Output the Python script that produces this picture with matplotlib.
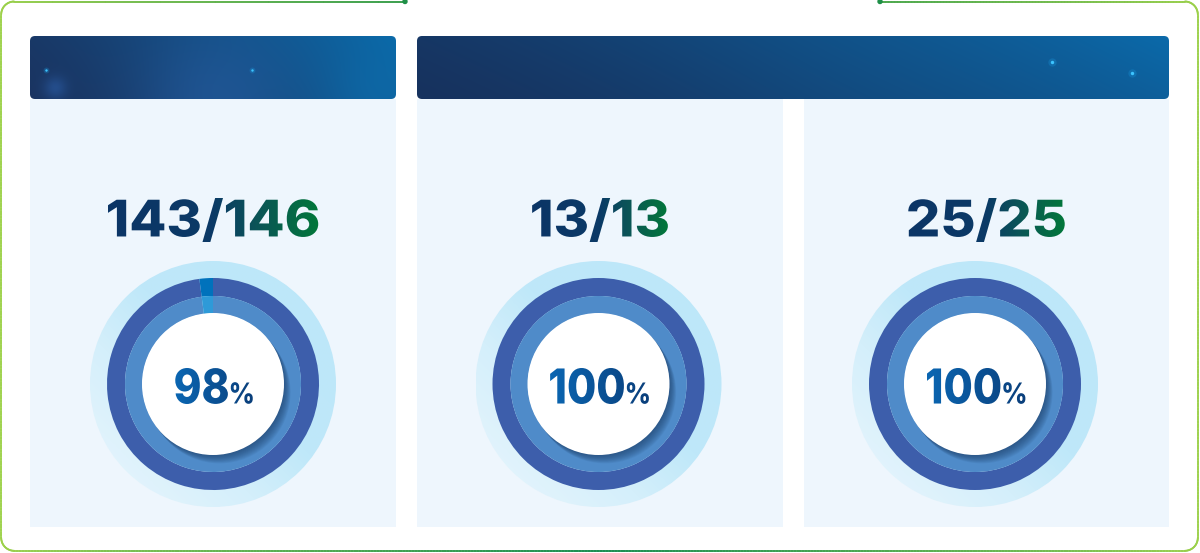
import numpy as np
import matplotlib
matplotlib.use('Agg')
import matplotlib.pyplot as plt
from matplotlib.patches import Circle, Wedge, FancyBboxPatch, PathPatch, Rectangle
from matplotlib.textpath import TextPath
from matplotlib.font_manager import FontProperties
from matplotlib.path import Path
from matplotlib.transforms import Affine2D
from matplotlib.collections import LineCollection
from matplotlib.colors import to_rgb, LinearSegmentedColormap

# ---------------- data ----------------
completed = [143, 13, 25]
totals = [146, 13, 25]

# ---------------- layout / style ----------------
W, H = 1200, 553
fig = plt.figure(figsize=(12, 5.53), dpi=100)
ax = fig.add_axes([0, 0, 1, 1])
ax.axis('off')

panel_x = [(30, 396), (417, 783), (804, 1169)]
panel_y = (99, 527)
header_y = (36, 99)
donut_cx = [213, 598.5, 975]
donut_cy = 384
R_HALO, R_DARK, R_MID, R_WHITE = 123, 106, 88, 71

FP = FontProperties(family='Inter', weight='heavy')

def rgb(c):
    return np.array(to_rgb(c))

# ---------------- outer border ----------------
def border(x0, y0, x1, y1, r, gap0, gap1):
    pts = []
    pts += [(x, y0) for x in np.linspace(gap1, x1 - r, 200)]
    for a in np.radians(np.linspace(-90, 0, 24)):
        pts.append((x1 - r + r * np.cos(a), y0 + r + r * np.sin(a)))
    pts += [(x1, y) for y in np.linspace(y0 + r, y1 - r, 200)]
    for a in np.radians(np.linspace(0, 90, 24)):
        pts.append((x1 - r + r * np.cos(a), y1 - r + r * np.sin(a)))
    pts += [(x, y1) for x in np.linspace(x1 - r, x0 + r, 400)]
    for a in np.radians(np.linspace(90, 180, 24)):
        pts.append((x0 + r + r * np.cos(a), y1 - r + r * np.sin(a)))
    pts += [(x0, y) for y in np.linspace(y1 - r, y0 + r, 200)]
    for a in np.radians(np.linspace(180, 270, 24)):
        pts.append((x0 + r + r * np.cos(a), y0 + r + r * np.sin(a)))
    pts += [(x, y0) for x in np.linspace(x0 + r, gap0, 200)]
    pts = np.array(pts)
    segs = np.stack([pts[:-1], pts[1:]], axis=1)
    mid = segs.mean(axis=1)
    t = np.clip(1 - np.abs(mid[:, 0] - 600) / 600, 0, 1) ** 0.8
    light, dark = rgb('#9ed24a'), rgb('#128a4c')
    cols = light[None, :] * (1 - t[:, None]) + dark[None, :] * t[:, None]
    lc = LineCollection(segs, colors=cols, linewidths=1.3, capstyle='round')
    ax.add_collection(lc)
    for gx in (gap0, gap1):
        ax.add_patch(Circle((gx, y0), 2.0, color='#1f8f48', zorder=3))

border(1.2, 1.5, 1197.8, 550.8, 13, 405, 880)

# ---------------- panels ----------------
for (x0, x1) in panel_x:
    ax.add_patch(Rectangle((x0, panel_y[0]), x1 - x0, panel_y[1] - panel_y[0],
                           facecolor='#eef6fd', edgecolor='none', zorder=1))

# ---------------- headers ----------------
def header(x0, x1, c_left, c_right, glows, dots):
    y0, y1 = header_y
    w, h = int(x1 - x0), int(y1 - y0)
    xs = np.linspace(0, 1, w)[None, :]
    ys = np.linspace(0, 1, h)[:, None]
    t = np.clip(0.85 * xs + 0.15 * (1 - ys), 0, 1) ** 1.3
    img = rgb(c_left)[None, None, :] * (1 - t[..., None]) + rgb(c_right)[None, None, :] * t[..., None]
    X = x0 + xs * (x1 - x0)
    Y = y0 + ys * (y1 - y0)
    for gx, gy, s, col, k in glows:
        g = k * np.exp(-((X - gx) ** 2 + (Y - gy) ** 2) / (2 * s ** 2))
        img = img * (1 - g[..., None]) + rgb(col)[None, None, :] * g[..., None]
    img = np.clip(img, 0, 1)
    box = FancyBboxPatch((x0, y0), x1 - x0, y1 - y0,
                         boxstyle='round,pad=0,rounding_size=5',
                         facecolor='none', edgecolor='none', zorder=2)
    ax.add_patch(box)
    im = ax.imshow(img, extent=(x0, x1, y1, y0), origin='upper',
                   interpolation='bilinear', zorder=2, aspect='auto')
    im.set_clip_path(box)
    for dx, dy, s in dots:
        ax.scatter([dx], [dy], s=s * 6, color='#1aa0e8', alpha=0.25, zorder=3, linewidths=0)
        ax.scatter([dx], [dy], s=s, color='#3cc4ff', zorder=3, linewidths=0)

header(30, 396, '#1a3461', '#0b69a8',
       [(215, 105, 55, '#2760a6', 0.55), (55, 88, 8, '#2e63b0', 0.5),
        (375, 95, 35, '#0d73b4', 0.4)],
       [(46, 70, 3), (252, 70, 3)])
header(417, 1169, '#17325e', '#0b6aaa',
       [(900, 60, 120, '#125a92', 0.15)],
       [(1052, 62, 6), (1132, 73, 6)])

# ---------------- gradient text ----------------
def gradient_text(parts, cx, cy, target_h, stops, z=6, gap=3, xscale=1.0):
    paths = []
    x = 0.0
    main_ext = None
    for s, ratio in parts:
        tp = TextPath((x, 0), s, size=100 * ratio, prop=FP)
        ext = tp.get_extents()
        if main_ext is None:
            main_ext = ext
        paths.append(tp)
        x = ext.x1 + gap
    comp = Path.make_compound_path(*paths)
    ext = comp.get_extents()
    sc = target_h / main_ext.height
    tr = Affine2D().translate(-(ext.x0 + ext.x1) / 2, -(main_ext.y0 + main_ext.y1) / 2)\
        .scale(sc * xscale, -sc).translate(cx, cy)
    p = tr.transform_path(comp)
    patch = PathPatch(p, facecolor='none', edgecolor='none', transform=ax.transData, zorder=z)
    ax.add_patch(patch)
    e = p.get_extents()
    cmap = LinearSegmentedColormap.from_list('g', stops)
    grad = np.linspace(0, 1, 256)[None, :]
    im = ax.imshow(grad, extent=(e.x0, e.x1, e.y1, e.y0), origin='upper', cmap=cmap,
                   interpolation='bilinear', aspect='auto', zorder=z)
    im.set_clip_path(patch)

num_stops = [(0, '#0b3567'), (0.5, '#0b3a66'), (0.72, '#0a5656'), (1, '#02773a')]
pct_stops = [(0, '#0a66b2'), (1, '#0b3f7b')]

# ---------------- donuts ----------------
halo_cmap = LinearSegmentedColormap.from_list(
    'halo', [(0, '#eaf6fd'), (0.35, '#d4effb'), (0.55, '#bfe8f9'), (1, '#bce7f9')])

for i, (done, tot) in enumerate(zip(completed, totals)):
    cx, cy = donut_cx[i], donut_cy
    # halo
    halo = Circle((cx, cy), R_HALO, facecolor='none', edgecolor='none', zorder=3)
    ax.add_patch(halo)
    n = 200
    u = np.linspace(0, 1, n)
    U, V = np.meshgrid(u, u)
    tt = (U + (1 - V)) / 2
    im = ax.imshow(tt, extent=(cx - R_HALO, cx + R_HALO, cy + R_HALO, cy - R_HALO),
                   origin='upper', cmap=halo_cmap, vmin=0, vmax=1,
                   interpolation='bilinear', aspect='auto', zorder=3)
    im.set_clip_path(halo)

    miss_ang = (tot - done) / tot * 360.0
    # dark ring
    ax.add_patch(Wedge((cx, cy), R_DARK, -90, 270 - miss_ang, width=R_DARK - R_MID,
                       facecolor='#3d5eab', edgecolor='none', zorder=4))
    # middle ring
    ax.add_patch(Wedge((cx, cy), R_MID, -90, 270 - miss_ang, width=R_MID - R_WHITE + 0.5,
                       facecolor='#4f8bc9', edgecolor='none', zorder=4))
    if miss_ang > 0:
        ax.add_patch(Wedge((cx, cy), R_DARK, -90 - miss_ang, -90, width=R_DARK - R_MID,
                           facecolor='#0072bc', edgecolor='none', zorder=4))
        ax.add_patch(Wedge((cx, cy), R_MID, -90 - miss_ang, -90, width=R_MID - R_WHITE + 0.5,
                           facecolor='#2e9ad8', edgecolor='none', zorder=4))
    # soft shadow of white disc, cast to the lower right
    clipc = Circle((cx, cy), R_MID, facecolor='none', edgecolor='none', zorder=4)
    ax.add_patch(clipc)
    for k in range(1, 13):
        sh = Circle((cx + 0.55 * k, cy + 0.7 * k), R_WHITE, facecolor='#1b3d66',
                    edgecolor='none', alpha=0.07, zorder=4.5)
        ax.add_patch(sh)
        sh.set_clip_path(clipc)
    ax.add_patch(Circle((cx, cy), R_WHITE, facecolor='white', edgecolor='none', zorder=5))

    # labels
    panel_cx = (panel_x[i][0] + panel_x[i][1]) / 2
    gradient_text([(f'{done}/{tot}', 1.0)], panel_cx, 220, 44, num_stops, xscale=1.07)
    pct = round(done / tot * 100)
    gradient_text([(f'{pct}', 1.0), ('%', 0.6)], cx + 1, 386, 36, pct_stops, gap=2,
                  xscale=0.88)

ax.set_xlim(0, W)
ax.set_ylim(H, 0)
fig.savefig('out.png', dpi=100, facecolor='white')
